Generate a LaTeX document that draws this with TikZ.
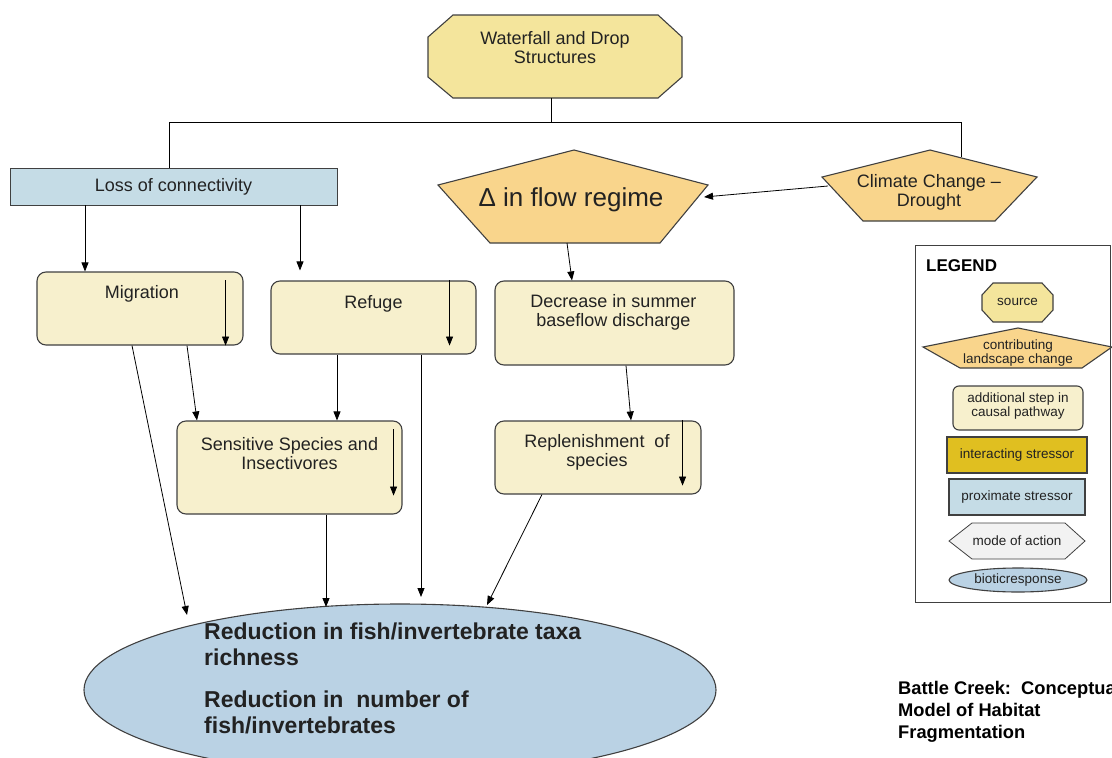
\documentclass[tikz,border=0pt]{standalone}
\usepackage{fontspec}
\setmainfont{Liberation Sans}
\usetikzlibrary{arrows.meta,calc,shapes.geometric}
\definecolor{srcfill}{HTML}{F4E59C}
\definecolor{landfill}{HTML}{F9D58C}
\definecolor{stepfill}{HTML}{F7F0CD}
\definecolor{proxfill}{HTML}{C5DCE6}
\definecolor{biofill}{HTML}{BAD2E4}
\definecolor{interfill}{HTML}{E0BF20}
\definecolor{modefill}{HTML}{F2F2F2}
\definecolor{edgecol}{HTML}{404040}
\definecolor{txtcol}{HTML}{222222}
\begin{document}
\begin{tikzpicture}[x=1pt,y=-1pt,
  shapeline/.style={draw=edgecol,line width=1.1pt},
  stepbox/.style={shapeline,fill=stepfill,rounded corners=9pt,inner sep=0pt},
  rectbox/.style={shapeline,inner sep=0pt},
  conn/.style={draw=black,line width=0.8pt},
  arr/.style={conn,-{Triangle[length=9pt,width=7pt]}},
  txt/.style={font=\fontsize{18}{19}\selectfont,align=center,text=txtcol,inner sep=0pt},
  ltxt/.style={font=\fontsize{13.5}{12.5}\selectfont,align=center,text=txtcol,inner sep=0pt},
  btxt/.style={font=\bfseries\fontsize{23}{26}\selectfont,align=left,text=txtcol,inner sep=0pt,anchor=north west},
]
\useasboundingbox (0,0) rectangle (1112,758);
\clip (0,0) rectangle (1112,758);

% ---------- Waterfall source octagon ----------
\path[shapeline,fill=srcfill] (453,15) -- (658,15) -- (682,37) -- (682,77) -- (658,98) -- (453,98) -- (428,77) -- (428,37) -- cycle;
\node[txt] (wf) at (555,48) {Waterfall and Drop\\Structures};
\coordinate (wfb) at (551,98);

% ---------- Loss of connectivity ----------
\node[rectbox,fill=proxfill,line width=0.9pt,minimum width=327pt,minimum height=37pt] (loss) at (173.5,186.5) {};
\node[txt] (losst) at (loss.center) {Loss of connectivity};

% ---------- Delta in flow regime ----------
\path[shapeline,fill=landfill] (574,150) -- (708,185) -- (660,243) -- (490,243) -- (438,185) -- cycle;
\node[txt,font=\fontsize{26}{28}\selectfont] (flow) at (571,200) {Δ in flow regime};
\coordinate (flowB) at (567,243);
\coordinate (flowR) at (704,197);

% ---------- Climate change ----------
\path[shapeline,fill=landfill] (930,150) -- (1037,177) -- (995,221) -- (863,221) -- (822,177) -- cycle;
\node[txt] (clim) at (929,192) {Climate Change --\\Drought};
\coordinate (climL) at (828,186);
\coordinate (climT) at (961,157);

% ---------- bus from source ----------
\coordinate (busL) at (169,122);
\coordinate (busR) at (961,122);
\draw[conn] (wfb) -- (wfb |- busL);
\draw[conn] (busL) -- (busR);
\draw[conn] (busL) -- (busL |- loss.north);
\draw[conn] (busR) -- (climT);

% ---------- step boxes ----------
\node[stepbox,minimum width=206pt,minimum height=73pt] (mig) at (140,308.5) {};
\node[txt,anchor=north] (migt) at ($(mig.north)+(2,14)$) {Migration};
\node[stepbox,minimum width=205pt,minimum height=73pt] (ref) at (373.5,317.5) {};
\node[txt,anchor=north] (reft) at ($(ref.north)+(0,15)$) {Refuge};
\node[stepbox,minimum width=225pt,minimum height=93pt] (sens) at (289.5,467.5) {};
\node[txt,anchor=north] (senst) at ($(sens.north)+(0,17)$) {Sensitive Species and\\Insectivores};
\node[stepbox,minimum width=239pt,minimum height=84pt] (dec) at (614.5,323) {};
\node[txt,anchor=north] (dect) at ($(dec.north)+(-1,14)$) {Decrease in summer\\baseflow discharge};
\node[stepbox,minimum width=206pt,minimum height=73pt] (rep) at (598,457.5) {};
\node[txt,anchor=north] (rept) at ($(rep.north)+(-1,14)$) {Replenishment\ \ of\\species};

% inner arrows
\draw[arr] ($(mig.north east)+(-18,9)$) -- ($(mig.south east)+(-18,0)$);
\draw[arr] ($(ref.north east)+(-27,0)$) -- ($(ref.south east)+(-27,-9)$);
\draw[arr] ($(sens.north east)+(-9,9)$) -- ($(sens.south east)+(-9,-19)$);
\draw[arr] ($(rep.north east)+(-19,0)$) -- ($(rep.south east)+(-19,-9)$);

% ---------- bottom ellipse ----------
\node[ellipse,shapeline,fill=biofill,minimum width=632pt,minimum height=172pt,inner sep=0pt] (ell) at (400,690) {};
\node[btxt] (ellt1) at (204,623) {Reduction in fish/invertebrate taxa\\richness};
\node[btxt] (ellt2) at (204,691) {Reduction in\ \ number of\\fish/invertebrates};

% ---------- connectors ----------
\draw[arr] (loss.south -| 85,0) -- (mig.north -| 85,0);
\draw[arr,shorten >=10pt] (loss.south -| 300,0) -- (ref.north -| 300,0);
\draw[arr] (flowB) -- (dec.north -| 572,0);
\draw[arr] (climL) -- (flowR);
\draw[arr] (dec.south -| 626,0) -- (rep.north -| 631,0);
\draw[arr] (mig.south -| 187,0) -- (sens.north -| 197,0);
\draw[arr] (ref.south -| 337,0) -- (sens.north -| 337,0);
\coordinate (e1) at (187,615);
\coordinate (e2) at (421,597);
\coordinate (e3) at (326,607);
\coordinate (e4) at (487,605);
\draw[arr] (mig.south -| 132,0) -- (e1);
\draw[arr] (ref.south -| 421,0) -- (e2);
\draw[arr] (sens.south -| 326,0) -- (e3);
\draw[arr] (rep.south -| 542,0) -- (e4);

% ---------- legend ----------
\draw[draw=edgecol,line width=1pt] (915,245) rectangle (1110.5,602);
\node[anchor=west,font=\bfseries\fontsize{17}{18}\selectfont,text=black,inner sep=0pt] (legt) at (926,266) {LEGEND};
\path[shapeline,fill=srcfill] (993,283) -- (1042,283) -- (1053,295) -- (1053,310) -- (1042,322) -- (993,322) -- (982,310) -- (982,295) -- cycle;
\node[ltxt] (lsrc) at (1017.5,302) {source};
\path[shapeline,fill=landfill] (1018,328) -- (1112,347) -- (1082,368) -- (960,368) -- (923,347) -- cycle;
\node[ltxt] (lland) at (1018,353) {contributing\\landscape change};
\node[stepbox,rounded corners=6pt,minimum width=130pt,minimum height=44pt] (lstep) at (1018,408) {};
\node[ltxt] (lstept) at (1018,406) {additional step in\\causal pathway};
\node[rectbox,fill=interfill,minimum width=140pt,minimum height=36pt,ltxt] (linter) at (1017,455) {interacting stressor};
\node[rectbox,fill=proxfill,minimum width=136pt,minimum height=36pt,ltxt] (lprox) at (1017,497) {proximate stressor};
\path[shapeline,fill=modefill,line width=0.8pt] (949,541) -- (972,523) -- (1065,523) -- (1085,541) -- (1065,559) -- (972,559) -- cycle;
\node[ltxt] (lmode) at (1017,541) {mode of action};
\node[ellipse,shapeline,fill=biofill,minimum width=138pt,minimum height=24pt,inner sep=0pt,ltxt] (lbio) at (1018,580) {bioticresponse};

% ---------- title ----------
\node[anchor=north west,align=left,font=\bfseries\fontsize{18.3}{22}\selectfont,text=black,inner sep=0pt] (title) at (898,681) {Battle Creek:\ \ Conceptual\\Model of Habitat\\Fragmentation};
\end{tikzpicture}
\end{document}
